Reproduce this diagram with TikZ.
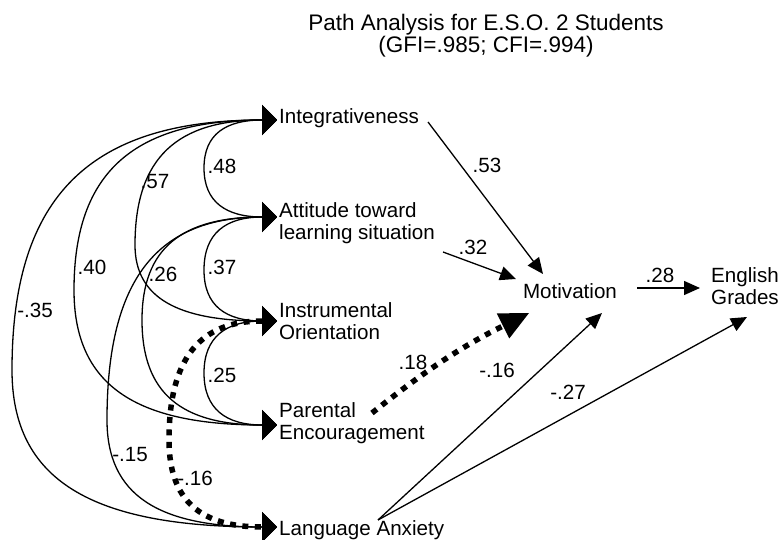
\documentclass[tikz,border=0pt]{standalone}
\usepackage{fontspec}
\setmainfont{Liberation Sans}
\usetikzlibrary{arrows.meta}
\begin{document}
\begin{tikzpicture}[x=1pt,y=-1pt,
  every node/.style={inner sep=0pt, font=\fontsize{20.6}{22}\selectfont},
  txt/.style={align=left, anchor=west},
  corr/.style={line width=1.3pt, {Triangle[length=15pt,width=30pt]}-{Triangle[length=15pt,width=30pt]}},
  corrdot/.style={line width=5.5pt, dash pattern=on 6pt off 6.5pt,
     {Triangle[length=15pt,width=30pt,line width=0pt]}-{Triangle[length=15pt,width=30pt,line width=0pt]}},
  reg/.style={line width=1.3pt, -{Triangle[length=16pt,width=14pt]}},
  regdot/.style={line width=5.5pt, dash pattern=on 6pt off 6.5pt, -{Triangle[length=29pt,width=28pt,line width=0pt]}},
]
\useasboundingbox (0,0) rectangle (782,540);

% title
\node[align=center, font=\fontsize{22.5}{22}\selectfont] (title) at (486,36) {Path Analysis for E.S.O. 2 Students\\(GFI=.985; CFI=.994)};

% variables
\node[txt] (int) at (279,118) {Integrativeness};
\node[txt] (att) at (279,223) {Attitude toward\\learning situation};
\node[txt] (ins) at (279,321) {Instrumental\\Orientation};
\node[txt] (par) at (279,423) {Parental\\Encouragement};
\node[txt] (anx) at (279,530) {Language Anxiety};
\node (mot) at (570,291) {Motivation};
\node[align=center] (eng) at (745,286) {English\\Grades};

% arrow tips at the exogenous variables
\coordinate (tInt) at (277,120);
\coordinate (tAtt) at (277,217);
\coordinate (tIns) at (277,321);
\coordinate (tPar) at (277,425);
\coordinate (tAnx) at (277,527);

% leftmost points of the correlation curves
\coordinate (m48) at (204,168);
\coordinate (m37) at (204,270);
\coordinate (m25) at (204,373);
\coordinate (m57) at (135,245);
\coordinate (m26) at (142,320);
\coordinate (m40) at (74,290);
\coordinate (m15) at (107,420);
\coordinate (m35) at (12,370);
\coordinate (m16) at (169,440);

% correlations
\draw[corr] (tInt) .. controls +(-51,0) and +(0,-34) .. (m48) .. controls +(0,34) and +(-51,0) .. (tAtt);
\draw[corr] (tAtt) .. controls +(-51,0) and +(0,-37) .. (m37) .. controls +(0,36) and +(-51,0) .. (tIns);
\draw[corr] (tIns) .. controls +(-51,0) and +(0,-36) .. (m25) .. controls +(0,36) and +(-51,0) .. (tPar);
\draw[corr] (tInt) .. controls +(-99,0) and +(0,-88) .. (m57) .. controls +(0,53) and +(-99,0) .. (tIns);
\draw[corr] (tAtt) .. controls +(-95,0) and +(0,-72) .. (m26) .. controls +(0,74) and +(-95,0) .. (tPar);
\draw[corr] (tInt) .. controls +(-142,0) and +(0,-119) .. (m40) .. controls +(0,95) and +(-142,0) .. (tPar);
\draw[corr] (tAtt) .. controls +(-119,0) and +(0,-142) .. (m15) .. controls +(0,75) and +(-119,0) .. (tAnx);
\draw[corr] (tInt) .. controls +(-186,0) and +(0,-175) .. (m35) .. controls +(0,110) and +(-186,0) .. (tAnx);
\draw[corrdot] (tIns) .. controls +(-76,0) and +(0,-83) .. (m16) .. controls +(0,61) and +(-76,0) .. (tAnx);

\node (l48) at (222,166) {.48};
\node (l37) at (222,267) {.37};
\node (l25) at (222,375) {.25};
\node (l57) at (155,182) {.57};
\node (l26) at (163,274) {.26};
\node (l40) at (92,267) {.40};
\node (l15) at (130,455) {-.15};
\node (l35) at (35,310) {-.35};
\node (l16a) at (195,478) {-.16};

% paths
\coordinate (sInt) at (428,122);
\coordinate (sAtt) at (443,252);
\coordinate (sPar) at (372,413);
\coordinate (sAnx) at (378,520);
\coordinate (mInt) at (543,274);
\coordinate (mAtt) at (516,279);
\coordinate (mPar) at (529,313);
\coordinate (mAnx) at (602,313);
\coordinate (eAnx) at (747,317);
\coordinate (mOut) at (637,288);
\coordinate (eIn) at (700,288);

\draw[reg] (sInt) -- (mInt);
\draw[reg] (sAtt) -- (mAtt);
\draw[regdot] (sPar) to[bend left=6] (mPar);
\draw[reg] (sAnx) -- (mAnx);
\draw[reg] (sAnx) -- (eAnx);
\draw[reg] (mOut) -- (eIn);

\node (l53) at (487,165) {.53};
\node (l32) at (473,247) {.32};
\node (l18) at (413,362) {.18};
\node (l16b) at (497,370) {-.16};
\node (l27) at (568,392) {-.27};
\node (l28) at (660,275) {.28};
\end{tikzpicture}
\end{document}
